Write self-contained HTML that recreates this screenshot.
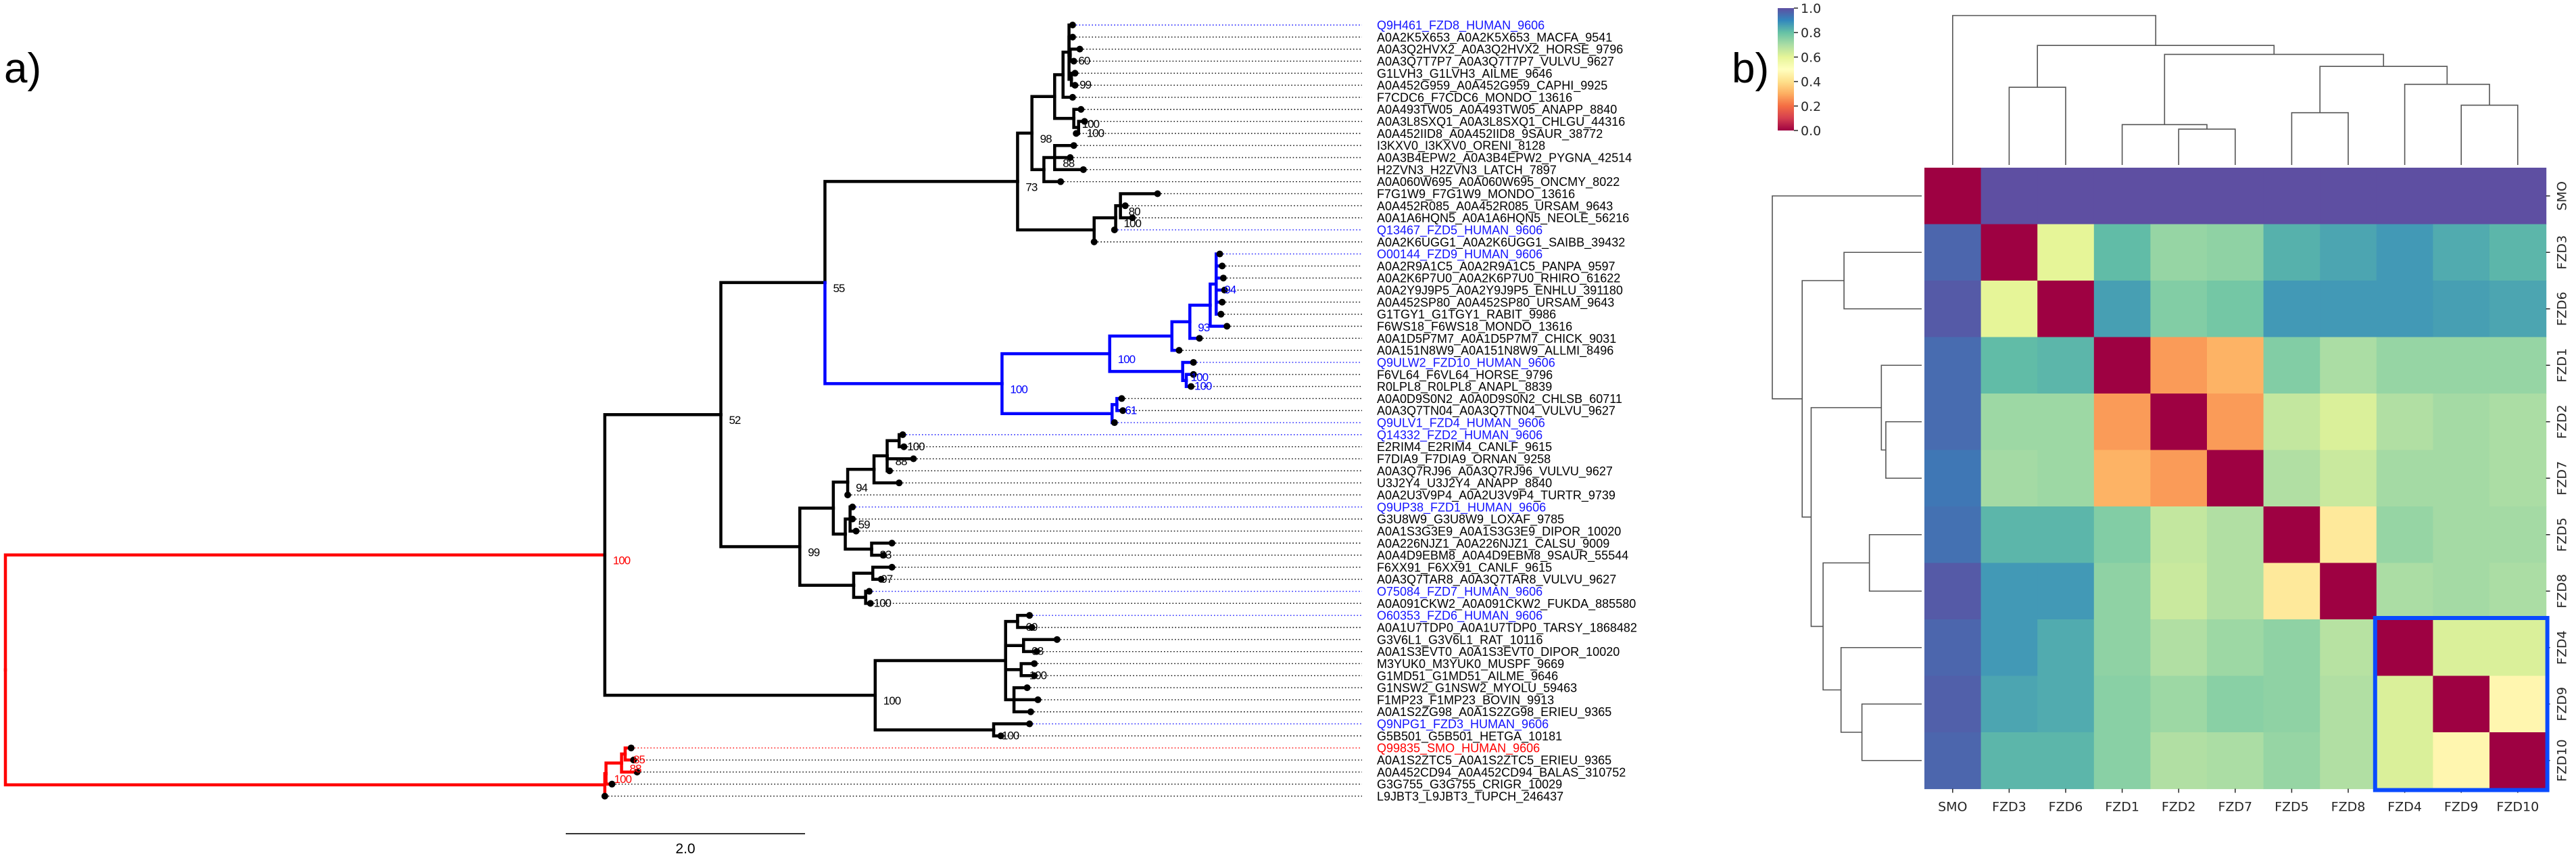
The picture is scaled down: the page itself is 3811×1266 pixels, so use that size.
<!DOCTYPE html>
<html><head><meta charset="utf-8">
<style>
html,body{margin:0;padding:0;background:#fff;}
svg{display:block;}
.lf{font-family:"Liberation Sans",Arial,sans-serif;font-size:18px;}
.bs{font-family:"Liberation Sans",Arial,sans-serif;font-size:17px;letter-spacing:-1px;}
.mpl{font-family:"DejaVu Sans","Liberation Sans",sans-serif;font-size:19px;fill:#262626;}
</style></head>
<body>
<svg id="fig" xmlns="http://www.w3.org/2000/svg" width="3811" height="1266" viewBox="0 0 3811 1266">
<text x="6" y="122" font-family="Liberation Sans, sans-serif" font-size="62">a)</text>
<text x="2562" y="122" font-family="Liberation Sans, sans-serif" font-size="62">b)</text>
<g id="tree"></g>
<g id="heat"></g>
</svg>
<script>
// ---------------- Phylogenetic tree data ----------------
const leafNames = [
"Q9H461_FZD8_HUMAN_9606","A0A2K5X653_A0A2K5X653_MACFA_9541","A0A3Q2HVX2_A0A3Q2HVX2_HORSE_9796","A0A3Q7T7P7_A0A3Q7T7P7_VULVU_9627","G1LVH3_G1LVH3_AILME_9646","A0A452G959_A0A452G959_CAPHI_9925","F7CDC6_F7CDC6_MONDO_13616","A0A493TW05_A0A493TW05_ANAPP_8840","A0A3L8SXQ1_A0A3L8SXQ1_CHLGU_44316","A0A452IID8_A0A452IID8_9SAUR_38772",
"I3KXV0_I3KXV0_ORENI_8128","A0A3B4EPW2_A0A3B4EPW2_PYGNA_42514","H2ZVN3_H2ZVN3_LATCH_7897","A0A060W695_A0A060W695_ONCMY_8022","F7G1W9_F7G1W9_MONDO_13616","A0A452R085_A0A452R085_URSAM_9643","A0A1A6HQN5_A0A1A6HQN5_NEOLE_56216","Q13467_FZD5_HUMAN_9606","A0A2K6UGG1_A0A2K6UGG1_SAIBB_39432","O00144_FZD9_HUMAN_9606",
"A0A2R9A1C5_A0A2R9A1C5_PANPA_9597","A0A2K6P7U0_A0A2K6P7U0_RHIRO_61622","A0A2Y9J9P5_A0A2Y9J9P5_ENHLU_391180","A0A452SP80_A0A452SP80_URSAM_9643","G1TGY1_G1TGY1_RABIT_9986","F6WS18_F6WS18_MONDO_13616","A0A1D5P7M7_A0A1D5P7M7_CHICK_9031","A0A151N8W9_A0A151N8W9_ALLMI_8496","Q9ULW2_FZD10_HUMAN_9606","F6VL64_F6VL64_HORSE_9796",
"R0LPL8_R0LPL8_ANAPL_8839","A0A0D9S0N2_A0A0D9S0N2_CHLSB_60711","A0A3Q7TN04_A0A3Q7TN04_VULVU_9627","Q9ULV1_FZD4_HUMAN_9606","Q14332_FZD2_HUMAN_9606","E2RIM4_E2RIM4_CANLF_9615","F7DIA9_F7DIA9_ORNAN_9258","A0A3Q7RJ96_A0A3Q7RJ96_VULVU_9627","U3J2Y4_U3J2Y4_ANAPP_8840","A0A2U3V9P4_A0A2U3V9P4_TURTR_9739",
"Q9UP38_FZD1_HUMAN_9606","G3U8W9_G3U8W9_LOXAF_9785","A0A1S3G3E9_A0A1S3G3E9_DIPOR_10020","A0A226NJZ1_A0A226NJZ1_CALSU_9009","A0A4D9EBM8_A0A4D9EBM8_9SAUR_55544","F6XX91_F6XX91_CANLF_9615","A0A3Q7TAR8_A0A3Q7TAR8_VULVU_9627","O75084_FZD7_HUMAN_9606","A0A091CKW2_A0A091CKW2_FUKDA_885580","O60353_FZD6_HUMAN_9606",
"A0A1U7TDP0_A0A1U7TDP0_TARSY_1868482","G3V6L1_G3V6L1_RAT_10116","A0A1S3EVT0_A0A1S3EVT0_DIPOR_10020","M3YUK0_M3YUK0_MUSPF_9669","G1MD51_G1MD51_AILME_9646","G1NSW2_G1NSW2_MYOLU_59463","F1MP23_F1MP23_BOVIN_9913","A0A1S2ZG98_A0A1S2ZG98_ERIEU_9365","Q9NPG1_FZD3_HUMAN_9606","G5B501_G5B501_HETGA_10181",
"Q99835_SMO_HUMAN_9606","A0A1S2ZTC5_A0A1S2ZTC5_ERIEU_9365","A0A452CD94_A0A452CD94_BALAS_310752","G3G755_G3G755_CRIGR_10029","L9JBT3_L9JBT3_TUPCH_246437"];
const blueLeaves = [1,18,20,29,34,35,41,48,50,59];
const redLeaves = [61];

function N(d,b,ch,c,ec,bc){return {d:d,b:b,ch:ch,c:c,ec:ec,bc:bc};}
function L(i,d){return {i:i,d:d};}

const cladeA = N(8.46,'73',[
  N(8.58,'98',[
    N(8.77,null,[
      N(8.84,null,[ N(8.89,null,[L(1,8.92),L(2,8.92),N(8.90,'60',[L(3,8.98),L(4,8.93)]),N(8.91,'99',[L(5,8.94),L(6,8.94)])]), L(7,8.92)]),
      N(8.93,'100',[L(8,8.99), N(8.97,'100',[L(9,9.02),L(10,8.95)])])
    ]),
    N(8.68,null,[N(8.77,'88',[L(11,8.93),L(12,8.90),L(13,9.01)]), L(14,8.82)])
  ]),
  N(9.10,null,[N(9.28,'100',[N(9.32,'80',[L(15,9.63),L(16,9.36),L(17,9.42)]), L(18,9.27)]), L(19,9.10)])
]);
const cladeB = N(8.33,'100',[
  N(9.23,'100',[
    N(9.75,null,[ N(9.90,'93',[ N(10.07,null,[ N(10.12,'94',[L(20,10.15),L(21,10.17),L(22,10.18),L(23,10.19),L(24,10.17),L(25,10.16)]), L(26,10.21)]), L(27,9.98)]), L(28,9.81)]),
    N(9.84,'100',[L(29,9.93), N(9.87,'100',[L(30,9.93),L(31,9.91)])])
  ]),
  N(9.25,null,[N(9.29,'61',[L(32,9.33),L(33,9.34)]), L(34,9.27)])
],'blue','blue');
const cladeC = N(6.64,'99',[
  N(6.92,null,[
    N(7.04,'94',[ N(7.26,null,[ N(7.37,'88',[ N(7.47,'100',[L(35,7.50),L(36,7.51)]), L(37,7.59), L(38,7.39)]), L(39,7.47)]), L(40,7.04)]),
    N(7.02,null,[N(7.06,'59',[L(41,7.08),L(42,7.08),L(43,7.11)]), N(7.24,'83',[L(44,7.41),L(45,7.34)])])
  ]),
  N(7.09,null,[N(7.25,'97',[L(46,7.41),L(47,7.32)]), N(7.19,'100',[L(48,7.22),L(49,7.23)])])
]);
const cladeD = N(7.27,'100',[
  N(8.36,null,[ N(8.46,'60',[L(50,8.56),L(51,8.58)]), N(8.51,'98',[L(52,8.79),L(53,8.62)]), N(8.49,'100',[L(54,8.60),L(55,8.60)]), N(8.43,null,[L(56,8.54),L(57,8.63),L(58,8.57)]) ]),
  N(8.26,'100',[L(59,8.56),L(60,8.32)])
]);
const cladeSMO = N(5.01,null,[ N(5.02,'100',[ N(5.15,'88',[ N(5.18,'85',[L(61,5.23),L(62,5.25)]), L(63,5.28)]), L(64,5.07)]), L(65,5.01)],'red');
const treeRoot = N(0,null,[
  N(5.01,'100',[ N(5.98,'52',[ N(6.85,'55',[cladeA, cladeB]), cladeC ]), cladeD ],'black','red','red'),
  cladeSMO
],'red');
const scaleBarUnits = 2.0;

// ---------------- Tree drawing ----------------
const NS="http://www.w3.org/2000/svg";
const tg=document.getElementById('tree');
const xOf=d=>8+d*177;
const yOf=i=>37+(i-1)*17.82;
const labelX=2037, dotEnd=2015;
function mk(tag,attrs,parent){const e=document.createElementNS(NS,tag);for(const k in attrs)e.setAttribute(k,attrs[k]);parent.appendChild(e);return e;}
function layout(n){ if(n.i){n.y=yOf(n.i);return n.y;} n.ch.forEach(layout); n.y=(n.ch[0].y+n.ch[n.ch.length-1].y)/2; return n.y;}
layout(treeRoot);
const gBr=mk('g',{},tg), gLf=mk('g',{},tg), gBs=mk('g',{},tg);






function draw(n,col){
  const x=xOf(n.d);
  n.ch.forEach(ch=>{
    const ec=ch.ec||ch.c||col;
    const cx=xOf(ch.d);
    const p=mk('path',{d:`M${x},${n.y}V${ch.y}H${cx}`,fill:'none',stroke:ec,'stroke-width':4.5,'stroke-linejoin':'miter','stroke-linecap':'square'},gBr);
    
    
    if(ch.i){
      const lc=blueLeaves.includes(ch.i)?'#1414ff':(redLeaves.includes(ch.i)?'#ff0000':'#000');
      const dl=mk('line',{x1:cx+5,y1:ch.y,x2:dotEnd,y2:ch.y,stroke:lc,'stroke-width':1.4,'stroke-dasharray':'1.6 3.1'},gLf);
      
      
      const c=mk('circle',{cx:cx,cy:ch.y,r:5,fill:'#000'},gLf);
      
      
      const t=mk('text',{x:labelX,y:ch.y+6.5,class:'lf',fill:lc},gLf);
      t.textContent=leafNames[ch.i-1];
      
      
    } else {
      draw(ch,ch.c||col);
    }
  });
  if(n.b){
    const t=mk('text',{x:x+12,y:n.y+14,class:'bs',fill:n.bc||col},gBs);
    t.textContent=n.b;
    
    
  }
}
draw(treeRoot,treeRoot.c);
const sb=mk('line',{x1:837,y1:1233,x2:837+scaleBarUnits*177,y2:1233,stroke:'#333','stroke-width':2},tg);


const sbt=mk('text',{x:837+scaleBarUnits*177/2,y:1262,'text-anchor':'middle','font-family':'Liberation Sans, sans-serif','font-size':21},tg);
sbt.textContent=scaleBarUnits.toFixed(1);


</script>
<script>
// ---------------- Heatmap data ----------------
const proteins = ["SMO","FZD3","FZD6","FZD1","FZD2","FZD7","FZD5","FZD8","FZD4","FZD9","FZD10"];
const rowSMO  = [0.00,1.00,1.00,1.00,1.00,1.00,1.00,1.00,1.00,1.00,1.00];
const rowFZD3 = [0.96,0.00,0.60,0.81,0.73,0.74,0.83,0.85,0.87,0.84,0.82];
const rowFZD6 = [0.98,0.60,0.00,0.86,0.76,0.78,0.87,0.87,0.87,0.86,0.85];
const rowFZD1 = [0.95,0.81,0.82,0.00,0.27,0.31,0.76,0.70,0.73,0.73,0.73];
const rowFZD2 = [0.95,0.72,0.72,0.27,0.00,0.27,0.66,0.62,0.69,0.71,0.70];
const rowFZD7 = [0.93,0.71,0.72,0.31,0.27,0.00,0.69,0.65,0.71,0.71,0.70];
const rowFZD5 = [0.94,0.82,0.82,0.76,0.66,0.69,0.00,0.43,0.73,0.71,0.71];
const rowFZD8 = [0.98,0.87,0.87,0.74,0.65,0.69,0.43,0.00,0.70,0.71,0.70];
const rowFZD4 = [0.96,0.87,0.84,0.74,0.69,0.72,0.74,0.68,0.00,0.62,0.62];
const rowFZD9 = [0.97,0.85,0.84,0.75,0.72,0.75,0.74,0.69,0.62,0.00,0.47];
const rowFZD10= [0.96,0.82,0.82,0.75,0.69,0.70,0.73,0.69,0.62,0.47,0.00];
const matrixRows = [rowSMO,rowFZD3,rowFZD6,rowFZD1,rowFZD2,rowFZD7,rowFZD5,rowFZD8,rowFZD4,rowFZD9,rowFZD10];
// linkage: [childA, childB, height (fraction of root)] ; new ids start at 11
const linkA = [4,3,9,8,6,15,12,1,18,0];
const linkB = [5,11,10,13,7,14,16,2,17,19];
const linkH = [0.24,0.27,0.40,0.54,0.35,0.66,0.74,0.52,0.80,1.00];
const cbarTicks = [0.0,0.2,0.4,0.6,0.8,1.0];
const highlightStart = 8, highlightEnd = 10;

// ---------------- Heatmap drawing ----------------
(function(){
const NS="http://www.w3.org/2000/svg";
const hg=document.getElementById('heat');
function mk(tag,attrs,parent){const e=document.createElementNS(NS,tag);for(const k in attrs)e.setAttribute(k,attrs[k]);parent.appendChild(e);return e;}
const stops=["#9e0142","#d53e4f","#f46d43","#fdae61","#fee08b","#ffffbf","#e6f598","#abdda4","#66c2a5","#3288bd","#5e4fa2"];
function hex(h){return [1,3,5].map(i=>parseInt(h.substr(i,2),16));}
function cmap(v){v=Math.max(0,Math.min(1,v));const p=v*10,i=Math.min(9,Math.floor(p)),f=p-i;const a=hex(stops[i]),b=hex(stops[i+1]);return `rgb(${a.map((x,k)=>Math.round(x+(b[k]-x)*f)).join(',')})`;}
const X0=2847,Y0=248,CW=83.6,CH=83.5,n=proteins.length;
const cx=j=>X0+(j+0.5)*CW, cy=i=>Y0+(i+0.5)*CH;
// cells
matrixRows.forEach((row,i)=>row.forEach((v,j)=>{
  const r=mk('rect',{x:X0+j*CW,y:Y0+i*CH,width:CW+0.6,height:CH+0.6,fill:cmap(v)},hg);
  
  
}));
// labels & ticks
proteins.forEach((p,j)=>{
  mk('line',{x1:cx(j),y1:Y0+n*CH,x2:cx(j),y2:Y0+n*CH+6,stroke:'#262626','stroke-width':1.5},hg);
  const t=mk('text',{x:cx(j),y:Y0+n*CH+33,'text-anchor':'middle',class:'mpl'},hg);
  t.textContent=p;
  
  
  mk('line',{x1:X0+n*CW,y1:cy(j),x2:X0+n*CW+6,y2:cy(j),stroke:'#262626','stroke-width':1.5},hg);
  const r=mk('text',{x:0,y:0,'text-anchor':'middle',class:'mpl',transform:`translate(${X0+n*CW+30},${cy(j)}) rotate(-90)`},hg);
  r.textContent=p;
  
  
});
// highlight box
const hb=mk('rect',{x:X0+highlightStart*CW-2,y:Y0+highlightStart*CH-2,width:(highlightEnd-highlightStart+1)*CW+4,height:(highlightEnd-highlightStart+1)*CH+4,fill:'none',stroke:'#0a4bff','stroke-width':6},hg);


// dendrograms
const pos={},hgt={};
for(let j=0;j<n;j++){pos[j]=j;hgt[j]=0;}
const DL=221;
const topY=h=>244-h*DL, leftX=h=>2843-h*DL;
const dg=mk('g',{},hg);


linkA.forEach((a,k)=>{
  const b=linkB[k],h=linkH[k],id=n+k;
  const pa=pos[a],pb=pos[b];
  const xa=X0+(pa+0.5)*CW, xb=X0+(pb+0.5)*CW;
  const t=mk('path',{d:`M${xa},${topY(hgt[a])}V${topY(h)}H${xb}V${topY(hgt[b])}`,fill:'none',stroke:'#555','stroke-width':1.6},dg);
  
  
  const ya=Y0+(pa+0.5)*CH, yb=Y0+(pb+0.5)*CH;
  const l=mk('path',{d:`M${leftX(hgt[a])},${ya}H${leftX(h)}V${yb}H${leftX(hgt[b])}`,fill:'none',stroke:'#555','stroke-width':1.6},dg);
  
  
  pos[id]=(pa+pb)/2; hgt[id]=h;
});
// colorbar
const CBX=2630,CBW=24,CBT=12,CBB=193;
const defs=mk('defs',{},hg);
const lg=mk('linearGradient',{id:'cbg',x1:0,y1:1,x2:0,y2:0},defs);
stops.forEach((s,i)=>mk('stop',{offset:i/10,'stop-color':s},lg));
const cb=mk('rect',{x:CBX,y:CBT,width:CBW,height:CBB-CBT,fill:'url(#cbg)'},hg);


cbarTicks.forEach(v=>{
  const y=CBB-v*(CBB-CBT);
  mk('line',{x1:CBX+CBW,y1:y,x2:CBX+CBW+6,y2:y,stroke:'#262626','stroke-width':1.5},hg);
  const t=mk('text',{x:CBX+CBW+10,y:y+7,class:'mpl'},hg);
  t.textContent=v.toFixed(1);
  
  
});
})();
</script>
</body></html>
